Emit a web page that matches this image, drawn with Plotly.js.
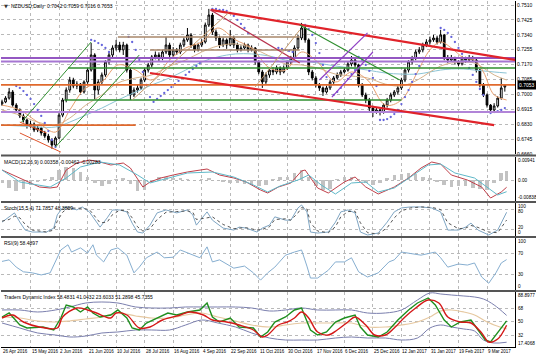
<!DOCTYPE html>
<html><head><meta charset="utf-8">
<script src="https://cdn.plot.ly/plotly-3.0.1.min.js"></script>
<style>html,body{margin:0;padding:0;background:#fff;}#chart{width:536px;height:357px;}</style>
</head><body><div id="chart"></div>
<script>
// ---------- DATA ----------
const dateLabels = ["26 Apr 2016","15 May 2016","2 Jun 2016","21 Jun 2016","10 Jul 2016","28 Jul 2016","16 Aug 2016","4 Sep 2016","22 Sep 2016","11 Oct 2016","30 Oct 2016","17 Nov 2016","6 Dec 2016","25 Dec 2016","12 Jan 2017","31 Jan 2017","19 Feb 2017","9 Mar 2017"];
const dateTickX = [0,16,32,48,64,80,96,112,128,144,160,176,192,208,224,240,256,272];
const priceTicks = [0.6660,0.6745,0.6830,0.6915,0.7000,0.7085,0.7170,0.7255,0.7340,0.7425,0.7510];

const candleX = [0,2,4,6,8,10,12,14,16,18,20,22,24,26,28,30,32,34,36,38,40,42,44,46,48,50,52,54,56,58,60,62,64,66,68,70,72,74,76,78,80,82,84,86,88,90,92,94,96,98,100,102,104,106,108,110,112,114,116,118,120,122,124,126,128,130,132,134,136,138,140,142,144,146,148,150,152,154,156,158,160,162,164,166,168,170,172,174,176,178,180,182,184,186,188,190,192,194,196,198,200,202,204,206,208,210,212,214,216,218,220,222,224,226,228,230,232,234,236,238,240,242,244,246,248,250,252,254,256,258,260,262,264,266,268,270,272,274,276,278,280,282];
const openP = [0.6945,0.6957,0.6979,0.7014,0.6939,0.6911,0.6877,0.6854,0.6820,0.6831,
0.6797,0.6808,0.6780,0.6762,0.6740,0.6711,0.6751,0.6882,0.6968,0.7025,
0.7082,0.7048,0.7059,0.7014,0.7071,0.7139,0.7225,0.7025,0.7071,0.7111,
0.7185,0.7225,0.7265,0.7282,0.7254,0.7282,0.7139,0.6997,0.7025,0.7037,
0.7082,0.7139,0.7168,0.7214,0.7225,0.7208,0.7242,0.7282,0.7225,0.7254,
0.7242,0.7282,0.7311,0.7339,0.7282,0.7254,0.7282,0.7299,0.7396,0.7453,
0.7356,0.7322,0.7282,0.7311,0.7282,0.7322,0.7282,0.7254,0.7265,0.7282,
0.7254,0.7265,0.7185,0.7128,0.7071,0.7111,0.7139,0.7128,0.7151,0.7128,
0.7151,0.7185,0.7208,0.7265,0.7322,0.7379,0.7311,0.7128,0.7094,0.7054,
0.7037,0.7014,0.7037,0.7071,0.7094,0.7111,0.7128,0.7139,0.7174,0.7196,
0.7168,0.7054,0.6997,0.6968,0.6922,0.6899,0.6911,0.6899,0.6939,0.6968,
0.6997,0.7014,0.7037,0.7082,0.7139,0.7185,0.7208,0.7242,0.7254,0.7282,
0.7299,0.7311,0.7322,0.7299,0.7339,0.7208,0.7196,0.7208,0.7185,0.7174,
0.7208,0.7196,0.7208,0.7196,0.7139,0.7054,0.6997,0.6939,0.6911,0.6934,
0.6979,0.7042];
const highP = [0.6970,0.6990,0.7037,0.7025,0.6950,0.6920,0.6890,0.6862,0.6850,0.6840,
0.6825,0.6815,0.6792,0.6775,0.6750,0.6760,0.6895,0.6980,0.7040,0.7100,
0.7095,0.7075,0.7065,0.7080,0.7150,0.7293,0.7235,0.7085,0.7125,0.7195,
0.7240,0.7280,0.7311,0.7300,0.7300,0.7290,0.7150,0.7040,0.7055,0.7095,
0.7150,0.7180,0.7225,0.7245,0.7240,0.7255,0.7328,0.7295,0.7270,0.7265,
0.7295,0.7325,0.7379,0.7350,0.7290,0.7295,0.7315,0.7410,0.7488,0.7465,
0.7370,0.7335,0.7325,0.7320,0.7368,0.7335,0.7295,0.7280,0.7295,0.7290,
0.7280,0.7270,0.7195,0.7140,0.7125,0.7150,0.7155,0.7165,0.7160,0.7165,
0.7195,0.7220,0.7280,0.7340,0.7408,0.7390,0.7320,0.7140,0.7105,0.7065,
0.7045,0.7050,0.7085,0.7105,0.7125,0.7140,0.7155,0.7185,0.7219,0.7205,
0.7175,0.7065,0.7010,0.6980,0.6935,0.6925,0.6920,0.6950,0.6980,0.7010,
0.7025,0.7050,0.7095,0.7150,0.7195,0.7220,0.7255,0.7270,0.7295,0.7315,
0.7330,0.7340,0.7335,0.7368,0.7345,0.7225,0.7225,0.7215,0.7195,0.7220,
0.7215,0.7225,0.7220,0.7205,0.7145,0.7065,0.7005,0.6945,0.6950,0.6990,
0.7094,0.7059];
const lowP = [0.6935,0.6950,0.6970,0.6930,0.6900,0.6865,0.6840,0.6805,0.6810,0.6785,
0.6785,0.6765,0.6750,0.6725,0.6690,0.6700,0.6745,0.6870,0.6955,0.7010,
0.7035,0.7030,0.7000,0.7005,0.7060,0.7130,0.6968,0.7000,0.7055,0.7100,
0.7170,0.7210,0.7250,0.7240,0.7225,0.7125,0.6968,0.6985,0.7010,0.7025,
0.7070,0.7125,0.7155,0.7200,0.7190,0.7195,0.7230,0.7200,0.7210,0.7225,
0.7230,0.7270,0.7300,0.7265,0.7240,0.7245,0.7270,0.7290,0.7385,0.7340,
0.7305,0.7265,0.7270,0.7260,0.7275,0.7265,0.7240,0.7245,0.7255,0.7240,
0.7245,0.7170,0.7115,0.7037,0.7060,0.7095,0.7110,0.7115,0.7110,0.7120,
0.7140,0.7170,0.7195,0.7255,0.7310,0.7295,0.7110,0.7080,0.7040,0.7020,
0.6991,0.7005,0.7025,0.7060,0.7085,0.7100,0.7120,0.7130,0.7160,0.7155,
0.7040,0.6985,0.6950,0.6905,0.6871,0.6890,0.6880,0.6890,0.6925,0.6955,
0.6985,0.7000,0.7025,0.7070,0.7125,0.7170,0.7195,0.7230,0.7240,0.7270,
0.7285,0.7300,0.7285,0.7290,0.7195,0.7180,0.7185,0.7170,0.7160,0.7165,
0.7180,0.7190,0.7180,0.7125,0.7040,0.6985,0.6925,0.6894,0.6900,0.6925,
0.6970,0.7016];
const closeP = [0.6957,0.6979,0.7014,0.6939,0.6911,0.6877,0.6854,0.6820,0.6831,0.6797,
0.6808,0.6780,0.6762,0.6740,0.6711,0.6751,0.6882,0.6968,0.7025,0.7082,
0.7048,0.7059,0.7014,0.7071,0.7139,0.7225,0.7025,0.7071,0.7111,0.7185,
0.7225,0.7265,0.7282,0.7254,0.7282,0.7139,0.6997,0.7025,0.7037,0.7082,
0.7139,0.7168,0.7214,0.7225,0.7208,0.7242,0.7282,0.7225,0.7254,0.7242,
0.7282,0.7311,0.7339,0.7282,0.7254,0.7282,0.7299,0.7396,0.7453,0.7356,
0.7322,0.7282,0.7311,0.7282,0.7322,0.7282,0.7254,0.7265,0.7282,0.7254,
0.7265,0.7185,0.7128,0.7071,0.7111,0.7139,0.7128,0.7151,0.7128,0.7151,
0.7185,0.7208,0.7265,0.7322,0.7379,0.7311,0.7128,0.7094,0.7054,0.7037,
0.7014,0.7037,0.7071,0.7094,0.7111,0.7128,0.7139,0.7174,0.7196,0.7168,
0.7054,0.6997,0.6968,0.6922,0.6899,0.6911,0.6899,0.6939,0.6968,0.6997,
0.7014,0.7037,0.7082,0.7139,0.7185,0.7208,0.7242,0.7254,0.7282,0.7299,
0.7311,0.7322,0.7299,0.7339,0.7208,0.7196,0.7208,0.7185,0.7174,0.7208,
0.7196,0.7208,0.7196,0.7139,0.7054,0.6997,0.6939,0.6911,0.6934,0.6979,
0.7037,0.7053];

// moving averages / TDI smooth lines share this x grid
const smoothX = [0,10,20,30,38,47,56,65,75,84,94,103,112,121,131,140,150,159,168,177,187,196,205,215,224,233,240,246,252,259,265,270,276,283];
const maSlow = [0.6825,0.6820,0.6814,0.6814,0.6842,0.6882,0.6922,0.6968,0.7014,0.7054,0.7094,0.7139,0.7185,0.7214,0.7231,0.7231,0.7219,0.7196,0.7191,0.7179,0.7162,0.7151,0.7139,0.7122,0.7116,0.7116,0.7128,0.7139,0.7145,0.7145,0.7139,0.7134,0.7128,0.7122];
const maMid = [0.6911,0.6882,0.6842,0.6825,0.6865,0.6939,0.6997,0.7065,0.7094,0.7111,0.7162,0.7196,0.7242,0.7276,0.7288,0.7265,0.7219,0.7174,0.7168,0.7151,0.7116,0.7105,0.7094,0.7059,0.7048,0.7082,0.7128,0.7162,0.7179,0.7185,0.7179,0.7151,0.7111,0.7082];
const maFast = [0.6939,0.6911,0.6842,0.6785,0.6911,0.7037,0.7071,0.7168,0.7139,0.7082,0.7196,0.7265,0.7299,0.7379,0.7311,0.7265,0.7151,0.7139,0.7242,0.7185,0.7071,0.7128,0.7082,0.6939,0.6968,0.7128,0.7254,0.7299,0.7265,0.7208,0.7196,0.7128,0.6997,0.6968];

// parabolic SAR dots
const sarX = [8,10,12,14,16,18,20,22,24,26,28,30, 50,52,54,56,58,60, 71,73,75,77,79,81,83, 85,87,89,91,93,95,97,99,101,103,105,107,109,111, 118,120,122,124,126,128,130,132,134,136,138, 155,157,159,161,163, 170,172,174,176,178,180,182, 186,188,190,192,194,196,198, 200,202,204,206,208,210, 212,214,216,218,220,222,224,226,228,230,232,234,236, 246,248,250,252,254,256,258,260,262,264,266,268,270, 274,276,278,280,282];
const sarP = [0.7048,0.7037,0.7019,0.6997,0.6974,0.6945,0.6911,0.6877,0.6837,0.6791,0.6740,0.6700, 0.7311,0.7305,0.7293,0.7282,0.7265,0.7242, 0.7328,0.7299,0.7254,0.7196,0.7128,0.7054,0.6985, 0.6957,0.6974,0.6991,0.7008,0.7025,0.7042,0.7059,0.7077,0.7094,0.7111,0.7128,0.7145,0.7162,0.7179, 0.7488,0.7488,0.7482,0.7482,0.7476,0.7465,0.7448,0.7425,0.7402,0.7379,0.7351, 0.7265,0.7259,0.7254,0.7248,0.7242, 0.7396,0.7373,0.7339,0.7293,0.7236,0.7168,0.7099, 0.6997,0.7014,0.7037,0.7059,0.7088,0.7116,0.7139, 0.7214,0.7196,0.7168,0.7134,0.7094,0.7048, 0.6854,0.6854,0.6859,0.6871,0.6888,0.6911,0.6945,0.6985,0.7025,0.7071,0.7116,0.7162,0.7208, 0.7379,0.7368,0.7351,0.7328,0.7299,0.7265,0.7231,0.7191,0.7151,0.7111,0.7071,0.7031,0.6997, 0.6894,0.6899,0.6905,0.6911,0.6922];

// horizontal price levels drawn on the chart
const levelP  = [0.7208,0.7188,0.6899,0.7151,0.6968,0.7054,0.6825,0.7328,0.7254];
const levelX0 = [-1,-1,-1,37,35,-1,-1,65,83];
const levelX1 = [290,290,290,290,224,290,75,167,167];
// trend lines
const trendX0 = [117,83,117,167,11,30,73,142,178,185,10,10];
const trendP0 = [0.7482,0.7122,0.7482,0.7396,0.6842,0.6700,0.6968,0.7042,0.7082,0.6985,0.6842,0.6780];
const trendX1 = [288,276,167,223,50,77,127,167,205,208,25,33];
const trendP1 = [0.7196,0.6825,0.7179,0.7082,0.7299,0.7225,0.7465,0.7368,0.7351,0.7242,0.6780,0.6671];

// MACD
const macdX = [0,10,21,27,31,36,42,49,55,61,68,72,77,79,83,89,96,104,115,122,130,137,145,149,155,162,168,170,177,183,192,198,204,211,220,228,235,241,246,252,261,269,274,280,283];
const macdMain = [0.00415,0.00092,-0.00272,-0.00312,-0.00272,0.00415,0.00698,0.00820,0.00739,0.00618,0.00698,0.00496,-0.00070,-0.00272,-0.00070,0.00092,0.00213,0.00335,0.00456,0.00213,0.00092,-0.00070,-0.00393,-0.00515,-0.00272,-0.00110,0.00375,0.00415,-0.00312,-0.00515,-0.00070,0.00132,-0.00272,-0.00555,-0.00272,0.00092,0.00496,0.00739,0.00658,0.00213,0.00011,-0.00272,-0.00717,-0.00474,-0.00283];
const signalX = [0,10,27,36,44,55,66,76,83,93,104,118,130,141,149,156,166,172,179,187,196,204,211,220,229,239,246,254,265,273,278,283];
const macdSignal = [0.00415,-0.00070,-0.00272,0.00092,0.00537,0.00739,0.00618,0.00213,-0.00110,0.00092,0.00294,0.00335,0.00132,-0.00191,-0.00474,-0.00231,0.00011,0.00213,-0.00191,-0.00555,-0.00110,-0.00070,-0.00474,-0.00312,0.00132,0.00618,0.00658,0.00294,0.00092,-0.00312,-0.00595,-0.00462];
const histX = [0,4,8,12,16,20,24,28,32,36,40,44,48,52,56,60,64,68,72,76,80,84,88,92,96,100,104,108,112,116,120,124,128,132,136,140,144,148,152,156,160,164,168,172,176,180,184,188,192,196,200,204,208,212,216,220,224,228,232,236,240,244,248,252,256,260,264,268,272,276,280,283];
const histV = [-0.0010,-0.0030,-0.0045,-0.0035,-0.0020,-0.0005,0.0005,0.0015,0.0040,0.0055,
0.0050,0.0035,0.0015,-0.0010,-0.0025,-0.0015,0.0005,0.0010,-0.0015,-0.0045,
-0.0040,-0.0005,0.0015,0.0012,0.0010,0.0008,0.0005,0.0003,0.0005,0.0008,
0.0002,-0.0005,-0.0010,-0.0012,-0.0015,-0.0020,-0.0022,-0.0018,0.0005,0.0012,
0.0015,0.0030,0.0042,0.0015,-0.0025,-0.0040,-0.0035,0.0005,0.0012,0.0015,
0.0005,-0.0012,-0.0018,-0.0010,0.0008,0.0020,0.0025,0.0030,0.0025,0.0015,
0.0010,-0.0005,-0.0020,-0.0028,-0.0022,-0.0025,-0.0030,-0.0035,-0.0040,-0.0010,
0.0030,0.0036];

// Stochastic
const stochX = [0,4,7,10,13,17,25,29,31,34,37,42,45,49,52,55,59,62,66,70,73,76,79,83,87,92,98,104,107,109,115,118,124,130,133,137,143,146,150,153,159,162,166,168,171,173,177,183,187,190,194,198,201,205,211,216,220,224,229,235,241,246,250,256,260,263,267,273,278,283];
const stochMain = [42,58,70,42,18,12,12,24,64,85,88,79,88,73,48,27,55,79,79,73,39,12,9,33,70,79,70,79,64,33,73,48,24,18,27,24,12,24,33,58,48,48,85,94,73,12,9,12,42,73,79,70,12,3,9,42,73,85,88,88,85,73,18,18,27,39,18,3,18,71.79];
const stochSignal = [45,50,60,55,35,18,12,18,45,72,85,84,84,80,60,40,42,65,78,76,55,28,15,22,50,72,74,76,72,50,55,58,35,22,24,25,18,20,28,50,52,48,70,86,82,40,15,10,28,58,74,75,40,10,6,25,55,76,85,88,87,80,40,22,24,32,26,12,10,48.38];

// RSI
const rsiX = [0,4,8,12,17,22,27,31,33,37,39,44,48,51,53,57,61,65,70,74,77,81,87,91,96,100,104,111,115,118,122,130,136,141,145,149,153,159,164,168,171,173,177,183,187,192,196,200,205,211,217,220,224,228,235,243,246,250,256,261,265,269,273,277,280,283];
const rsiV = [55,58,44,35,33,29,33,62,77,87,73,81,71,87,67,54,77,81,67,33,44,62,73,62,63,77,71,62,83,54,58,42,46,33,19,33,44,67,73,77,46,23,23,38,54,54,62,35,25,33,54,58,73,71,67,73,62,44,50,48,52,25,13,33,52,58.49];

// Traders Dynamic Index
const tdiUpper = [65.5,65.5,62.9,65.5,69.4,74.6,75.9,74.6,69.4,68.1,68.1,69.4,69.4,69.4,69.4,68.1,64.2,65.5,68.1,65.5,65.5,65.5,61.6,61.6,65.5,78.5,87.6,86.3,85.0,83.7,82.4,79.8,72.0,58.48];
const tdiLower = [48.6,42.1,35.6,33.0,30.4,31.7,35.6,36.9,39.5,39.5,39.5,46.0,52.5,48.6,43.4,35.6,29.1,26.5,26.5,26.5,29.1,30.4,29.1,29.1,26.5,29.1,42.1,46.0,43.4,40.8,38.2,26.5,22.6,23.60];
const tdiBase = [56.4,55.1,51.2,49.9,51.2,53.8,56.4,61.6,57.7,55.1,55.1,59.0,61.6,56.4,51.2,46.0,43.4,46.0,48.6,48.6,48.6,48.6,43.4,43.4,46.0,49.9,56.4,64.2,65.5,62.9,59.0,52.5,46.0,41.04];
const tdiRedX = [0,6,12,21,31,34,42,48,53,61,64,70,77,83,90,100,105,113,118,126,133,141,146,149,155,160,164,168,172,177,183,188,194,198,204,209,215,220,226,232,239,245,250,257,263,269,273,278,283];
const tdiRed = [55.1,59.0,49.9,43.4,42.1,56.4,68.1,65.5,61.6,55.1,61.6,59.0,42.1,43.4,52.5,59.0,62.9,59.0,52.5,49.9,46.0,39.5,30.4,33.0,46.0,49.9,55.1,62.9,55.1,36.9,33.0,39.5,49.9,56.4,46.0,33.0,33.0,42.1,56.4,68.1,78.5,74.6,56.4,49.9,48.6,35.6,23.9,27.8,45.74];
const tdiGreenX = [0,4,10,14,23,29,33,36,40,44,48,51,55,61,65,70,73,77,81,87,93,98,104,111,115,118,122,128,133,141,145,149,153,159,164,168,170,173,177,182,187,192,198,201,205,211,216,222,228,233,239,243,248,252,257,263,267,271,274,278,283];
const tdiGreen = [56.4,61.6,46.0,42.1,43.4,39.5,55.1,72.0,69.4,62.9,69.4,61.6,56.4,59.0,65.5,55.1,42.1,39.5,48.6,55.1,61.6,59.0,62.9,65.5,74.6,56.4,49.9,55.1,43.4,42.1,30.4,36.9,49.9,56.4,65.5,68.1,56.4,39.5,33.0,36.9,49.9,55.1,59.0,43.4,33.0,30.4,36.9,52.5,65.5,74.6,81.1,72.0,52.5,43.4,49.9,52.5,39.5,26.5,23.9,35.6,51.29];

// right-hand scale labels of the indicator windows
const macdLevels = [0.00941,0,-0.00838];
const macdLevelText = ["0.00941","0.00","-0.00838"];
const stochLevels = [100,80,20,0];
const rsiLevels = [100,70,30,0];
const tdiLevels = [88.8977,68,50,32,17.4068];
const lastPrice = 0.7053;
const paneTitles = ["NZDUSD,Daily  0.7042 0.7059 0.7016 0.7053","MACD(12,26,9) 0.00358 -0.00462 -0.00283","Stoch(15,5,4) 71.7857 48.3809","RSI(9) 58.4897","Traders Dynamic Index 58.4831 41.0432 23.6033 51.2898 45.7355"];

// ---------- STYLES ----------
const FONT = "Liberation Sans, Arial, sans-serif";
const levelColor = ["#9457c2","#a676d2","#b184d8","#2f8f2f","#2f8f2f","#e0692c","#e0692c","#a8876a","#a8876a"];
const levelWidth = [2,2,2,1.5,1.5,1.8,1.8,1.5,1.5];
const trendColor = ["#e0232a","#e0232a","#b8324e","#2f8f2f","#2f8f2f","#2f8f2f","#c49a6c","#c49a6c","#8e3fc4","#8e3fc4","#e0532a","#e0532a"];
const trendWidth = [2.2,2.2,1.2,1.2,1,1,1,1,1.2,1.2,1,1];

const paneDomains = [[0.5578,1],[0.4220,0.5491],[0.3208,0.4162],[0.1647,0.3150],[0,0.1590]];
const sepY = [0.5535,0.4191,0.3179,0.1618];

const traces = [];
traces.push({type:'candlestick', x:candleX, open:openP, high:highP, low:lowP, close:closeP,
  xaxis:'x', yaxis:'y', whiskerwidth:0, hoverinfo:'skip',
  increasing:{line:{color:'#000',width:1}, fillcolor:'#fff'},
  decreasing:{line:{color:'#000',width:1}, fillcolor:'#000'}});
traces.push({type:'scatter', mode:'lines', x:smoothX, y:maSlow, yaxis:'y', line:{color:'#8cc4d4',width:1,shape:'spline'}, hoverinfo:'skip'});
traces.push({type:'scatter', mode:'lines', x:smoothX, y:maMid, yaxis:'y', line:{color:'#d6b48c',width:1,shape:'spline'}, hoverinfo:'skip'});
traces.push({type:'scatter', mode:'lines', x:smoothX, y:maFast, yaxis:'y', line:{color:'#e8a070',width:1,shape:'spline'}, hoverinfo:'skip'});
traces.push({type:'scatter', mode:'markers', x:sarX, y:sarP, yaxis:'y', marker:{color:'#6464dc',size:2.3}, hoverinfo:'skip'});
for (let i=0;i<levelP.length;i++){
  traces.push({type:'scatter', mode:'lines', x:[levelX0[i],levelX1[i]], y:[levelP[i],levelP[i]], yaxis:'y',
    line:{color:levelColor[i],width:levelWidth[i]}, hoverinfo:'skip'});
}
for (let i=0;i<trendX0.length;i++){
  traces.push({type:'scatter', mode:'lines', x:[trendX0[i],trendX1[i]], y:[trendP0[i],trendP1[i]], yaxis:'y',
    line:{color:trendColor[i],width:trendWidth[i]}, hoverinfo:'skip'});
}
traces.push({type:'bar', x:histX, y:histV, yaxis:'y2', width:2, marker:{color:'#c2c2c2',line:{width:0}}, hoverinfo:'skip'});
traces.push({type:'scatter', mode:'lines', x:macdX, y:macdMain, yaxis:'y2', line:{color:'#c0404a',width:1}, hoverinfo:'skip'});
traces.push({type:'scatter', mode:'lines', x:signalX, y:macdSignal, yaxis:'y2', line:{color:'#5fb8c8',width:1}, hoverinfo:'skip'});
traces.push({type:'scatter', mode:'lines', x:stochX, y:stochMain, yaxis:'y3', line:{color:'#7fa6c4',width:1}, hoverinfo:'skip'});
traces.push({type:'scatter', mode:'lines', x:stochX, y:stochSignal, yaxis:'y3', line:{color:'#555',width:1,dash:'dot'}, hoverinfo:'skip'});
traces.push({type:'scatter', mode:'lines', x:rsiX, y:rsiV, yaxis:'y4', line:{color:'#86aed0',width:1}, hoverinfo:'skip'});
traces.push({type:'scatter', mode:'lines', x:smoothX, y:tdiUpper, yaxis:'y5', line:{color:'#7b7fae',width:1,shape:'spline'}, hoverinfo:'skip'});
traces.push({type:'scatter', mode:'lines', x:smoothX, y:tdiLower, yaxis:'y5', line:{color:'#7b7fae',width:1,shape:'spline'}, hoverinfo:'skip'});
traces.push({type:'scatter', mode:'lines', x:smoothX, y:tdiBase, yaxis:'y5', line:{color:'#e6c8a0',width:1.2,shape:'spline'}, hoverinfo:'skip'});
traces.push({type:'scatter', mode:'lines', x:tdiGreenX, y:tdiGreen, yaxis:'y5', line:{color:'#1f8f1f',width:1.4}, hoverinfo:'skip'});
traces.push({type:'scatter', mode:'lines', x:tdiRedX, y:tdiRed, yaxis:'y5', line:{color:'#d41818',width:1.4,shape:'spline'}, hoverinfo:'skip'});

const gridCol = '#b9b9b9';
function yax(dom, range, tickvals, showLabels){
  return {domain:dom, range:range, side:'right', tickvals:tickvals, showticklabels:showLabels,
    showgrid:true, gridcolor:gridCol, griddash:'dot', gridwidth:1, zeroline:false,
    showline:true, linecolor:'#000', linewidth:1, ticks:'', fixedrange:true,
    tickfont:{family:FONT,size:5,color:'#000'}, tickformat:'.4f', anchor:'x'};
}

const annotations = [];
const small = {family:FONT,size:4.7,color:'#000'};
function addLevels(yref, vals, texts){
  vals.forEach((v,i)=>{
    const last = vals.length-1;
    const anchor = i===0 ? 'top' : (i===last ? 'bottom' : 'middle');
    let shift = 0;
    if (yref==='y3' && i===1) shift = -2;
    if (yref==='y3' && i===2) shift = 2;
    annotations.push({xref:'paper', x:1.003, xanchor:'left', yref:yref, y:v, yanchor:anchor, yshift:shift,
      text:texts[i], showarrow:false, font:small, borderpad:0});
  });
}
addLevels('y2', macdLevels, macdLevelText);
addLevels('y3', stochLevels, stochLevels.map(String));
addLevels('y4', rsiLevels, rsiLevels.map(String));
addLevels('y5', tdiLevels, tdiLevels.map(String));
annotations.push({xref:'paper', x:1.003, xanchor:'left', yref:'y', y:lastPrice, yanchor:'middle',
  text:lastPrice.toFixed(4), showarrow:false, bgcolor:'#000', font:{family:FONT,size:5,color:'#fff'}, borderpad:1});
paneTitles.forEach((t,i)=>{
  annotations.push({xref:'paper', x:i===0?0.018:0.004, xanchor:'left', yref:'paper', y:paneDomains[i][1]-0.004, yanchor:'top',
    text:t, showarrow:false, font:{family:FONT,size:5,color:'#000'}, borderpad:0});
});
annotations.push({xref:'paper', x:0.004, xanchor:'left', yref:'paper', y:0.996, yanchor:'top',
  text:'▼', showarrow:false, font:{family:'DejaVu Sans',size:5,color:'#333'}, borderpad:0});
// date labels, left-aligned at their grid line as in the terminal
dateTickX.forEach((x,i)=>{
  annotations.push({xref:'x', x:x, xanchor:'left', yref:'paper', y:0, yanchor:'top', yshift:-1,
    text:dateLabels[i], showarrow:false, font:{family:FONT,size:4.5,color:'#000'}, borderpad:0});
});

const shapes = sepY.map(y=>({type:'line', xref:'paper', yref:'paper', x0:0, x1:1.041, y0:y, y1:y,
  line:{color:'#555',width:2}}));

const layout = {
  width:536, height:357, margin:{l:1,r:21,t:1,b:10},
  paper_bgcolor:'#fff', plot_bgcolor:'#fff', showlegend:false, bargap:0,
  font:{family:FONT,size:5,color:'#000'},
  xaxis:{domain:[0,1], anchor:'y5', range:[-0.56,287.7], tickvals:dateTickX, showticklabels:false,
    showgrid:true, gridcolor:gridCol, griddash:'dot', gridwidth:1,
    zeroline:false, showline:true, linecolor:'#000', linewidth:1, ticks:'', fixedrange:true,
    rangeslider:{visible:false}},
  yaxis: yax(paneDomains[0],[0.6660,0.7533],priceTicks,true),
  yaxis2: yax(paneDomains[1],[-0.00838,0.00941],[0],false),
  yaxis3: yax(paneDomains[2],[0,100],[20,80],false),
  yaxis4: yax(paneDomains[3],[0,100],[30,70],false),
  yaxis5: yax(paneDomains[4],[17.4068,88.8977],[32,50,68],false),
  annotations:annotations, shapes:shapes
};
Plotly.newPlot('chart', traces, layout, {staticPlot:true, displayModeBar:false});
</script></body></html>
